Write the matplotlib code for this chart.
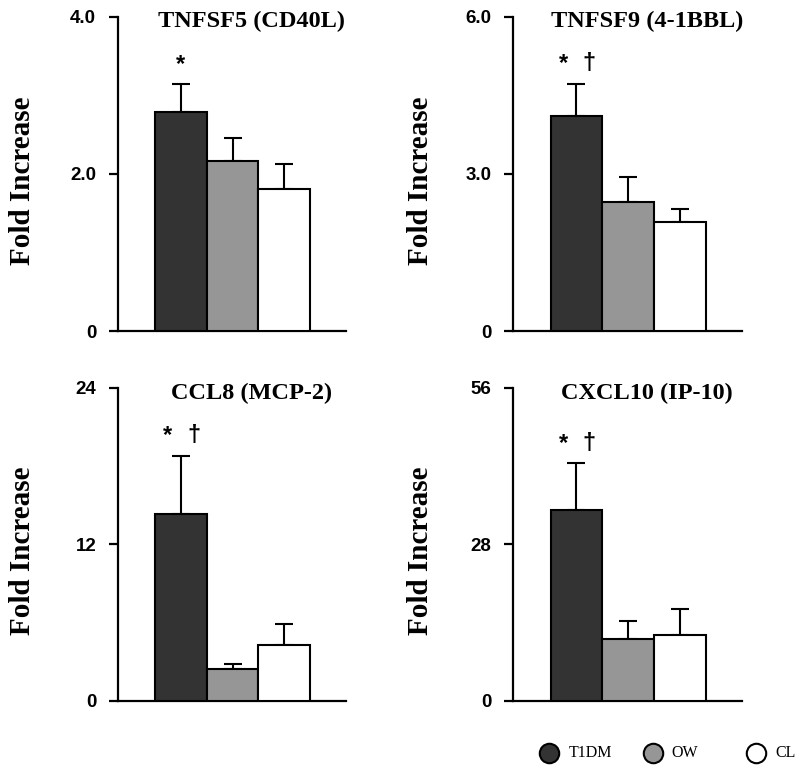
import matplotlib
matplotlib.use("Agg")
import matplotlib.pyplot as plt
from matplotlib.lines import Line2D
import numpy as np

genes = ["TNFSF5 (CD40L)", "TNFSF9 (4-1BBL)", "CCL8 (MCP-2)", "CXCL10 (IP-10)"]
groups = ["T1DM", "OW", "CL"]
t1dm_mean = [2.79, 4.10, 14.3, 34.2]
ow_mean = [2.16, 2.47, 2.4, 11.1]
cl_mean = [1.80, 2.08, 4.3, 11.75]
t1dm_err = [0.35, 0.62, 4.5, 8.3]
ow_err = [0.30, 0.46, 0.4, 3.2]
cl_err = [0.32, 0.25, 1.6, 4.7]
y_max = [4.0, 6.0, 24, 56]
y_ticks = [[0, 2.0, 4.0], [0, 3.0, 6.0], [0, 12, 24], [0, 28, 56]]
y_ticklabels = [["0", "2.0", "4.0"], ["0", "3.0", "6.0"], ["0", "12", "24"], ["0", "28", "56"]]
sig_marks = [["*"], ["*", "\u2020"], ["*", "\u2020"], ["*", "\u2020"]]
ylabel = "Fold Increase"

colors = ["#333333", "#969696", "#ffffff"]

W, H = 800, 772
fig = plt.figure(figsize=(W / 100, H / 100), dpi=100)

def px_axes(x0, x1, ytop, ybot):
    return [x0 / W, 1 - ybot / H, (x1 - x0) / W, (ybot - ytop) / H]

rects = [px_axes(118, 346, 16.5, 331), px_axes(513.3, 742, 16.5, 331),
         px_axes(118, 346, 387.7, 700.7), px_axes(513.3, 742, 387.7, 700.7)]
ylabel_x = [23 / W, 420 / W, 23 / W, 420 / W]

serif = ["Liberation Serif", "DejaVu Serif"]
sans = ["Liberation Sans", "DejaVu Sans"]

for k in range(4):
    ax = fig.add_axes(rects[k])
    means = [t1dm_mean[k], ow_mean[k], cl_mean[k]]
    errs = [t1dm_err[k], ow_err[k], cl_err[k]]
    x = np.arange(3)
    ax.bar(x, means, width=1.0, color=colors, edgecolor="black", linewidth=1.5, zorder=3)
    ax.errorbar(x, means, yerr=[np.zeros(3), errs], fmt="none", ecolor="black",
                elinewidth=1.5, capsize=6.8, capthick=1.5, zorder=2)
    ax.set_xlim(-1.22, 3.2)
    ax.set_ylim(0, y_max[k])
    ax.set_yticks(y_ticks[k])
    ax.set_yticklabels(y_ticklabels[k])
    for lab in ax.get_yticklabels():
        lab.set_fontfamily(sans)
        lab.set_fontweight("bold")
        lab.set_fontsize(13.5)
    ax.set_xticks([])
    for s in ["top", "right"]:
        ax.spines[s].set_visible(False)
    for s in ["left", "bottom"]:
        ax.spines[s].set_linewidth(1.6)
    ax.tick_params(axis="y", direction="out", length=6.7, width=1.6, pad=9)
    ax.text(0.584, 0.965, genes[k], transform=ax.transAxes, ha="center", va="baseline",
            fontfamily=serif, fontweight="bold", fontsize=17.5)
    top = means[0] + errs[0]
    marks = sig_marks[k]
    offs = [0] if len(marks) == 1 else [-13, 13]
    for m, o in zip(marks, offs):
        ax.annotate(m, xy=(0, top), xytext=(o, 20), textcoords="offset pixels",
                    ha="center", va="center", fontfamily=sans, fontweight="bold",
                    fontsize=17)
    pos = ax.get_position()
    fig.text(ylabel_x[k], pos.y0 + pos.height / 2 - 7 / H, ylabel, rotation=90,
             ha="center", va="center", fontfamily=serif, fontweight="bold", fontsize=21)

# legend keys
legend_x = [549.3, 652.7, 756.0]
legend_y = 753.3
for c, g, lx in zip(colors, groups, legend_x):
    fig.add_artist(Line2D([lx / W], [1 - legend_y / H], transform=fig.transFigure,
                          linestyle="none", marker="o", markersize=14, markerfacecolor=c,
                          markeredgecolor="black", markeredgewidth=1.5))
    fig.text((lx + 19) / W, 1 - legend_y / H, g, ha="left", va="center",
             fontfamily=serif, fontsize=11.5)

fig.savefig("out.png", dpi=100)
